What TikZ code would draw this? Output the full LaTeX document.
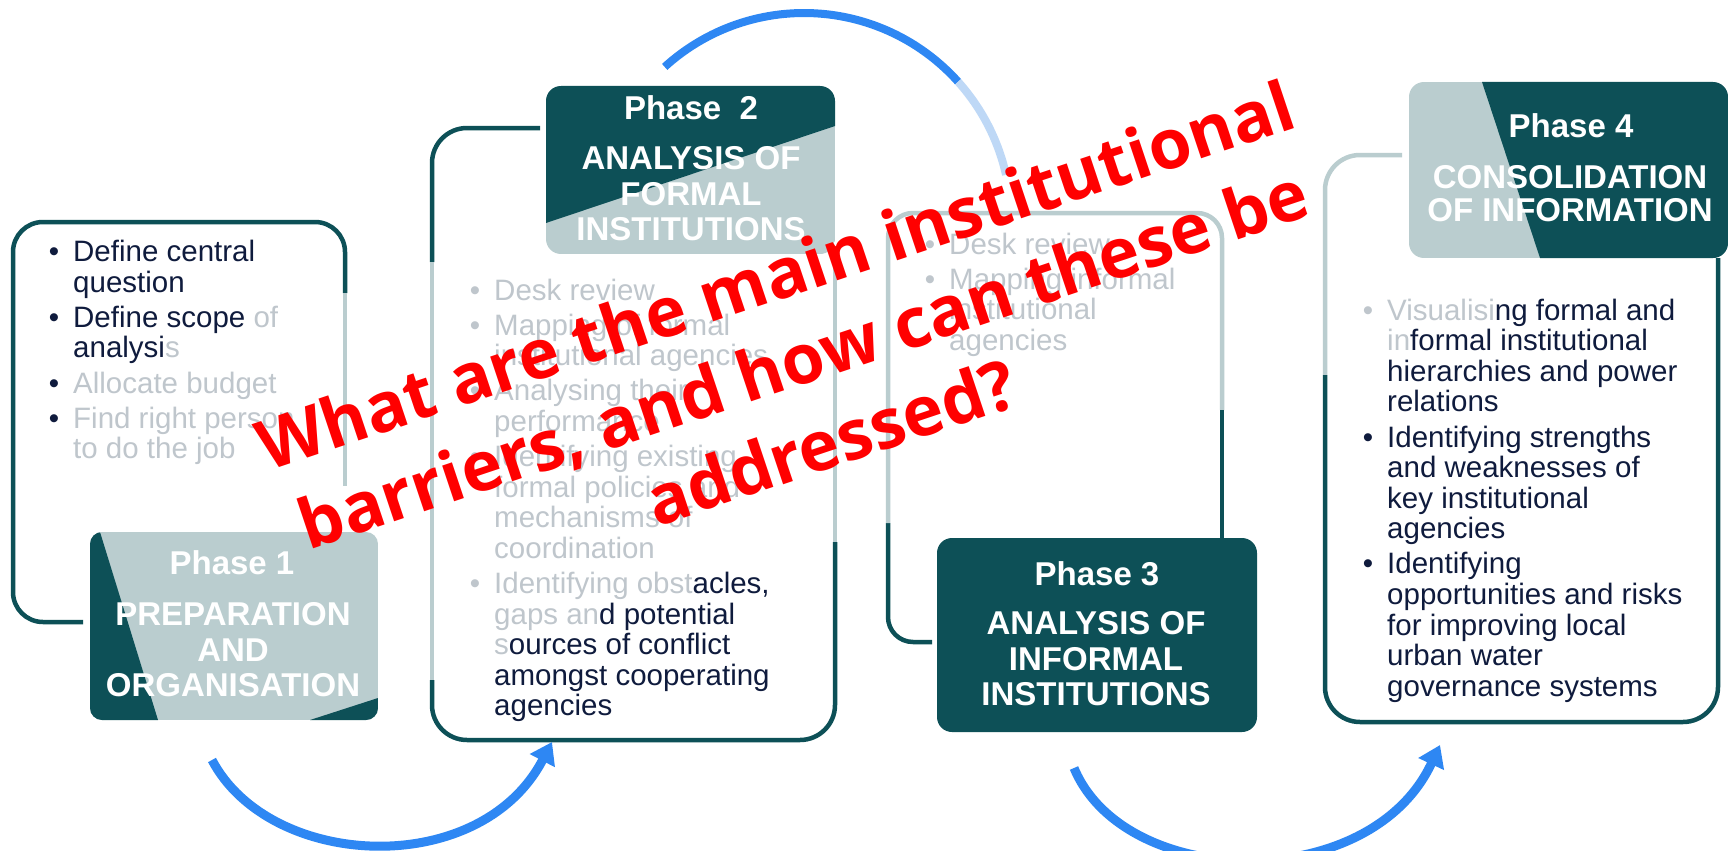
\documentclass[tikz,border=0pt]{standalone}
\usepackage{fontspec}
\setmainfont{Liberation Sans}
\newfontfamily\qfont{Open Sans}
\usetikzlibrary{arrows.meta,calc}
\definecolor{tealdk}{HTML}{0D5057}
\definecolor{greylt}{HTML}{BACDCF}
\definecolor{navy}{HTML}{0F1B3D}
\definecolor{txtgr}{HTML}{BFC6CC}
\definecolor{arcblue}{HTML}{2E87F3}
\definecolor{arclight}{HTML}{BED8F6}
\definecolor{qred}{HTML}{FF0000}
\newcommand\bul[1][navy]{\strut\llap{\textcolor{#1}{\textbullet}\hspace{14pt}}}
\begin{document}
\begin{tikzpicture}[x=1pt,y=-1pt,
  outl/.style={line width=4.5pt},
  dk/.style={outl,draw=tealdk},
  lt/.style={outl,draw=greylt},
  hdr/.style={text=white,font=\fontsize{33}{35.5}\selectfont\bfseries,align=center,inner sep=0pt},
  lst/.style={anchor=north west,inner sep=0pt,align=left,text=navy,font=\fontsize{29.5}{30.6}\selectfont},
  flow/.style={line width=9pt,draw=arcblue},
  tipa/.style={-{Triangle[width=27pt,length=21pt]}},
  question/.style={text=qred,font=\qfont\bfseries\fontsize{69}{88}\selectfont,align=center,rotate=18.5,inner sep=0pt}
]
\fill[white] (0,0) rectangle (1730,851);
\useasboundingbox (0,0) rectangle (1730,851);

% ---------- outlines ----------
% box 1
\draw[dk,rounded corners=30pt] (83,622) -- (13,622) -- (13,222) -- (345,222) -- (345,293);
\draw[lt] (345,293) -- (345,486);
% box 2
\draw[dk,rounded corners=35pt] (540,128) -- (432,128) -- (432,262);
\draw[lt] (432,262) -- (432,680);
\draw[dk,rounded corners=35pt] (432,680) -- (432,740) -- (835,740) -- (835,542);
\draw[lt] (835,542) -- (835,254);
% box 3
\draw[dk,rounded corners=25pt] (932,642) -- (888,642) -- (888,523);
\draw[lt,rounded corners=25pt] (888,523) -- (888,213) -- (1222,213) -- (1222,410);
\draw[dk] (1222,410) -- (1222,538);
% box 4
\draw[lt,rounded corners=35pt] (1402,155) -- (1325,155) -- (1325,375);
\draw[dk,rounded corners=35pt] (1325,375) -- (1325,722) -- (1718,722) -- (1718,258);

% ---------- headers ----------
\begin{scope}
  \clip[rounded corners=12pt] (90,532) rectangle (378,720);
  \fill[greylt] (90,532) rectangle (378,720);
  \fill[tealdk] (90,532) -- (100,532) -- (158,720) -- (90,720) -- cycle;
  \fill[tealdk] (310,720) -- (378,698) -- (378,720) -- cycle;
\end{scope}
\begin{scope}
  \clip[rounded corners=15pt] (546,86) rectangle (835,254);
  \fill[greylt] (546,86) rectangle (835,254);
  \fill[tealdk] (546,86) -- (835,86) -- (835,126) -- (546,223) -- cycle;
\end{scope}
\fill[tealdk,rounded corners=15pt] (937,538) rectangle (1257,732);
\begin{scope}
  \clip[rounded corners=15pt] (1409,82) rectangle (1728,258);
  \fill[greylt] (1409,82) rectangle (1728,258);
  \fill[tealdk] (1482,82) -- (1728,82) -- (1728,258) -- (1540,258) -- cycle;
\end{scope}

\node[hdr] (p1) at (232,563) {Phase 1};
\node[hdr] (p1b) at (233,650) {PREPARATION\\AND\\ORGANISATION};
\node[hdr] (p2) at (691,108) {Phase~~2};
\node[hdr] (p2b) at (691,194) {ANALYSIS OF\\FORMAL\\INSTITUTIONS};
\node[hdr] (p3) at (1097,574) {Phase 3};
\node[hdr] (p3b) at (1096,659) {ANALYSIS OF\\INFORMAL\\INSTITUTIONS};
\node[hdr] (p4) at (1571,126) {Phase 4};
\node[hdr,font=\fontsize{33}{33.5}\selectfont\bfseries] (p4b) at (1570,193.5) {CONSOLIDATION\\OF INFORMATION};

% ---------- lists ----------
\node[lst] (l1) at (73,240) {%
\bul Define central\\
question\\[4.5pt]
\bul Define scope \textcolor{txtgr}{of}\\
analysi\textcolor{txtgr}{s}\\[4.5pt]
\bul\textcolor{txtgr}{Allocate budget}\\[4.5pt]
\bul\textcolor{txtgr}{Find right person}\\
\textcolor{txtgr}{to do the job}};

\node[lst,text=txtgr] (l2) at (494,278.5) {%
\bul[txtgr]Desk review\\[4.5pt]
\bul[txtgr]Mapping of formal\\
institutional agencies\\[4.5pt]
\bul[txtgr]Analysing their\\
performance\\[4.5pt]
\bul[txtgr]Identifying existing\\
formal policies and\\
mechanisms of\\
coordination\\[4.5pt]
\bul[txtgr]Identifying obst\textcolor{navy}{acles,}\\
gaps an\textcolor{navy}{d potential}\\
s\textcolor{navy}{ources of conflict}\\
\textcolor{navy}{amongst cooperating}\\
\textcolor{navy}{agencies}};

\node[lst,text=txtgr] (l3) at (949,232.5) {%
\bul[txtgr]Desk review\\[4.5pt]
\bul[txtgr]Mapping informal\\
institutional\\
agencies};

\node[lst] (l4) at (1387,298.5) {%
\bul[txtgr]\textcolor{txtgr}{Visualisi}ng formal and\\
\textcolor{txtgr}{in}formal institutional\\
hierarchies and power\\
relations\\[4.5pt]
\bul Identifying strengths\\
and weaknesses of\\
key institutional\\
agencies\\[4.5pt]
\bul Identifying\\
opportunities and risks\\
for improving local\\
urban water\\
governance systems};

% ---------- flow arcs ----------
\draw[line width=8pt,draw=arcblue] plot[domain=-132.3:-41.9,samples=80] ({804+207*cos(\x)},{220+207*sin(\x)});
\draw[line width=8pt,draw=arclight] plot[domain=-41.9:-12.6,samples=40] ({804+207*cos(\x)},{220+207*sin(\x)});

\coordinate (a1s) at (212,760);
\coordinate (a1e) at (552,742);
\draw[flow,tipa] (a1s) .. controls (270,870) and (480,880) .. (a1e);
\coordinate (a2s) at (1074,768);
\coordinate (a2e) at (1440,745);
\draw[flow,tipa] (a2s) .. controls (1125,890) and (1370,895) .. (a2e);

% ---------- overlay question ----------
\node[question] (q) at (803,358) {What are the main institutional\\barriers, and how can these be\\addressed?};
\end{tikzpicture}
\end{document}
